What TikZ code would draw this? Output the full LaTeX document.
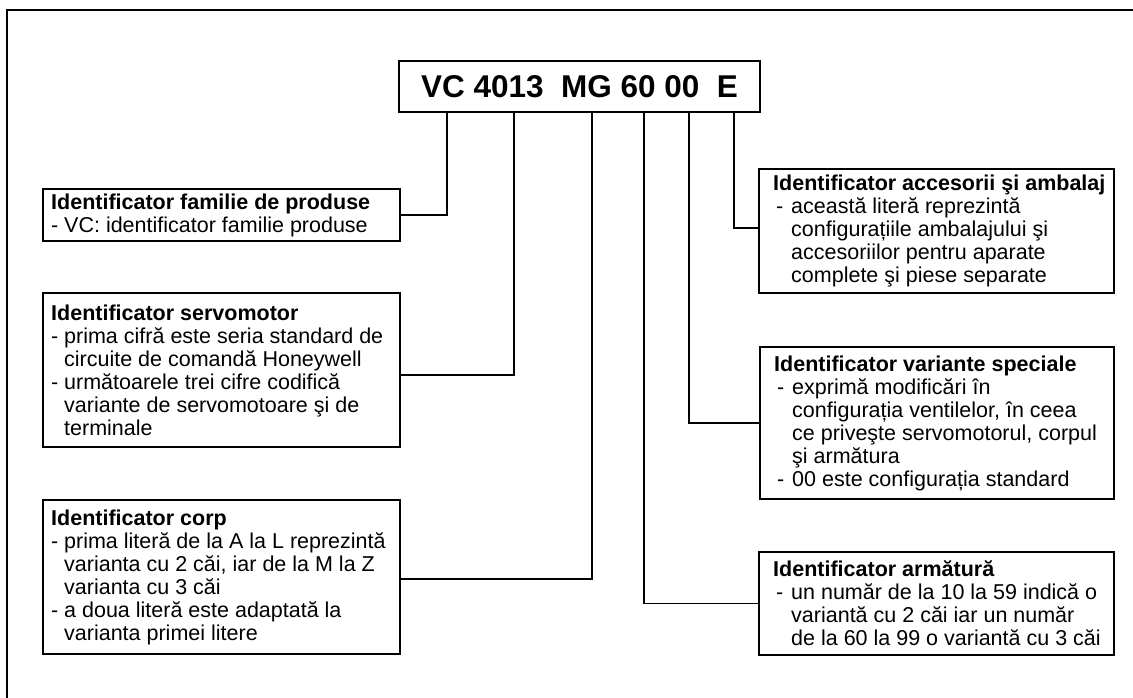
\documentclass[tikz,border=0pt]{standalone}
\usepackage{fontspec}
\setmainfont{Liberation Sans}
\newcommand\dashL{\makebox[13pt][l]{-}}
\newcommand\contL{\hspace*{13pt}}
\newcommand\dashR{\hspace*{3pt}\makebox[15pt][l]{-}}
\newcommand\contR{\hspace*{18pt}}
\begin{document}
\begin{tikzpicture}[x=1pt,y=-1pt,
  ibox/.style={draw, line width=2pt, anchor=north west, inner sep=0pt},
  itext/.style={anchor=west, align=left, inner sep=0pt, font=\fontsize{21.5}{23}\selectfont},
  conn/.style={line width=1.3pt}]
\useasboundingbox (0,0) rectangle (1133,697);
\draw[line width=2.6pt] (7,720) |- (1150,10);

\node[draw, line width=2.4pt, minimum width=361pt, minimum height=51pt, inner sep=0pt,
      font=\fontsize{31.5}{36}\selectfont\bfseries] (code) at (579.5,86.5) {VC 4013\ \ MG 60 00\ \ E};

\coordinate (c1) at (447,112);
\coordinate (c2) at (514,112);
\coordinate (c3) at (592,112);
\coordinate (c4) at (644,112);
\coordinate (c5) at (689,112);
\coordinate (c6) at (734,112);

\node[ibox, minimum width=357pt, minimum height=52pt] (fam) at (42,188) {};
\node[itext] (famt) at ([xshift=9pt]fam.west) {\textbf{Identificator familie de produse}\\
\dashL VC: identificator familie produse};

\node[ibox, minimum width=357pt, minimum height=154pt] (servo) at (42,292) {};
\node[itext] (servot) at ([xshift=9pt]servo.west) {\textbf{Identificator servomotor}\\
\dashL prima cifră este seria standard de\\
\contL circuite de comandă Honeywell\\
\dashL următoarele trei cifre codifică\\
\contL variante de servomotoare şi de\\
\contL terminale};

\node[ibox, minimum width=357pt, minimum height=154pt] (corp) at (42,499) {};
\node[itext] (corpt) at ([xshift=9pt]corp.west) {\textbf{Identificator corp}\\
\dashL prima literă de la A la L reprezintă\\
\contL varianta cu 2 căi, iar de la M la Z\\
\contL varianta cu 3 căi\\
\dashL a doua literă este adaptată la\\
\contL varianta primei litere};

\node[ibox, minimum width=355pt, minimum height=124pt] (acc) at (758,168) {};
\node[itext] (acct) at ([xshift=15pt]acc.west) {\textbf{Identificator accesorii şi ambalaj}\\
\dashR această literă reprezintă\\
\contR configurațiile ambalajului şi\\
\contR accesoriilor pentru aparate\\
\contR complete şi piese separate};

\node[ibox, minimum width=354pt, minimum height=152pt] (spec) at (759,346) {};
\node[itext] (spect) at ([xshift=15pt]spec.west) {\textbf{Identificator variante speciale}\\
\dashR exprimă modificări în\\
\contR configurația ventilelor, în ceea\\
\contR ce priveşte servomotorul, corpul\\
\contR şi armătura\\
\dashR 00 este configurația standard};

\node[ibox, minimum width=355pt, minimum height=103pt] (arm) at (758,551) {};
\node[itext] (armt) at ([xshift=15pt]arm.west) {\textbf{Identificator armătură}\\
\dashR un număr de la 10 la 59 indică o\\
\contR variantă cu 2 căi iar un număr\\
\contR de la 60 la 99 o variantă cu 3 căi};

\draw[conn] (fam.east) -| (c1);
\draw[conn] ([yshift=-5pt]servo.east) -| (c2);
\draw[conn] ([yshift=-2pt]corp.east) -| (c3);
\draw[conn] (arm.west) -| (c4);
\draw[conn] (spec.west) -| (c5);
\draw[conn] ([yshift=3pt]acc.west) -| (c6);
\end{tikzpicture}
\end{document}
